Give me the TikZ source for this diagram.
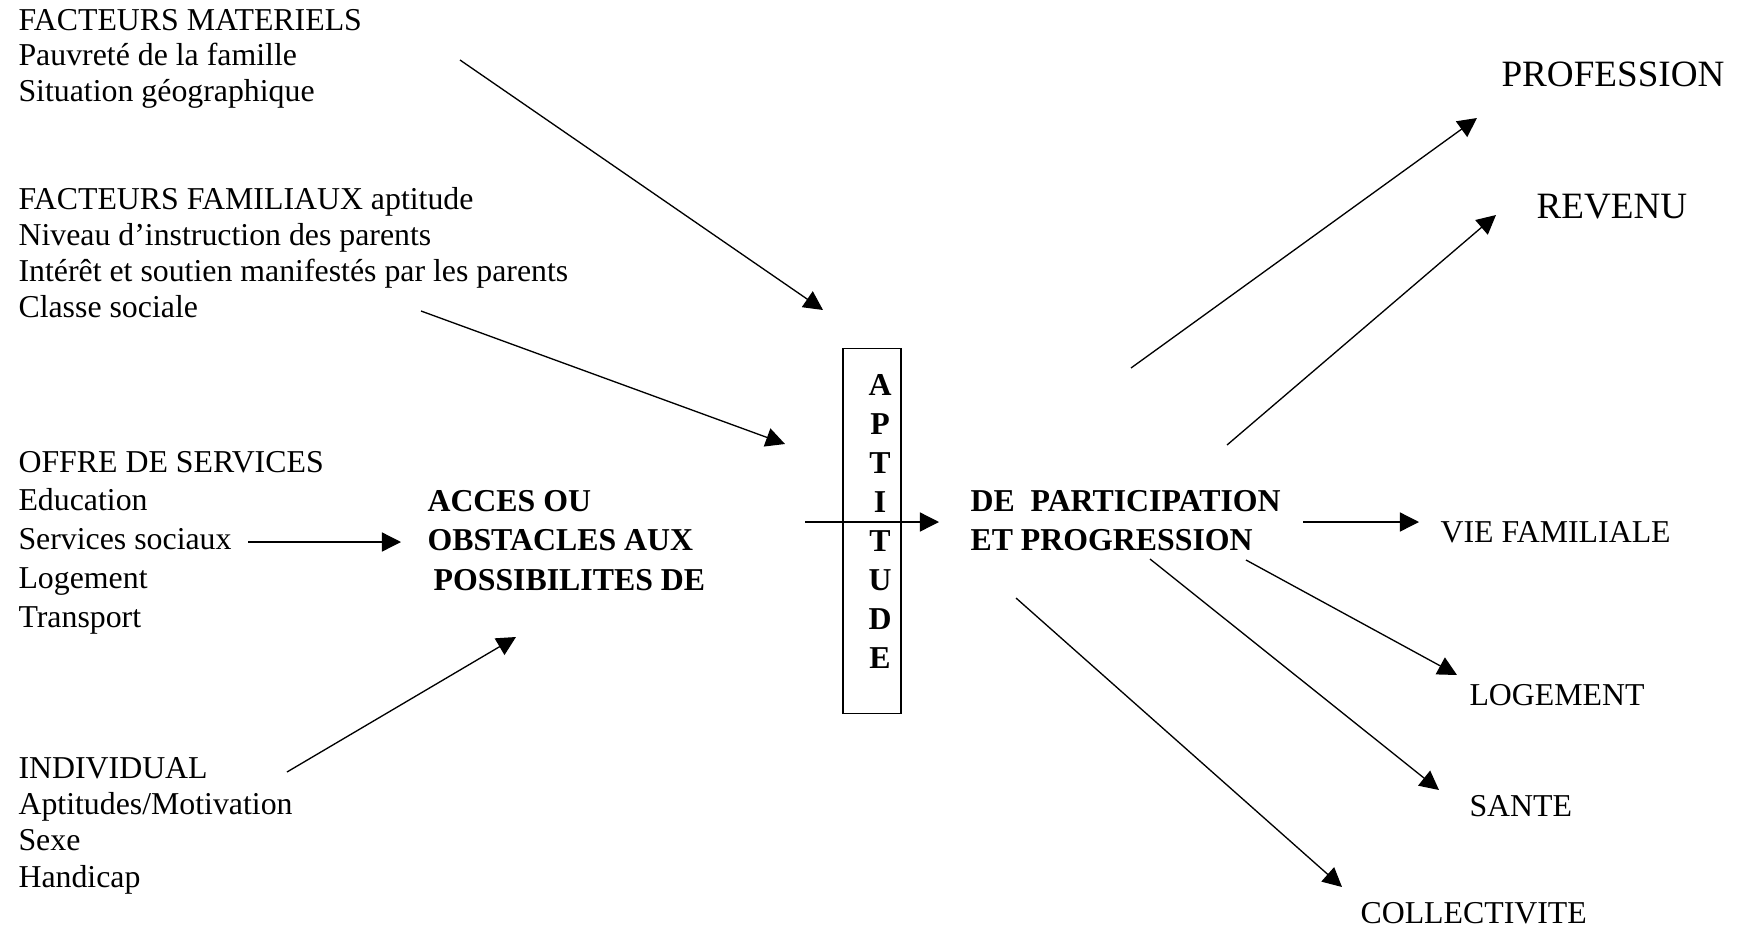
\documentclass[tikz,border=0pt]{standalone}
\usepackage{fontspec}
\setmainfont{Liberation Serif}
\usepackage{tikz}
\usetikzlibrary{arrows.meta,positioning}

\begin{document}
\begin{tikzpicture}[x=0.377pt, y=-0.377pt,
    txt/.style={anchor=base west, align=left, inner sep=0pt, font=\fontsize{12}{#1}\selectfont},
    txt/.default=13.5pt,
    hd/.style={anchor=base west, align=left, inner sep=0pt, font=\bfseries\fontsize{12}{#1}\selectfont},
    outcome/.style={anchor=base west, inner sep=0pt, font=\fontsize{12}{14}\selectfont},
    big/.style={anchor=base west, inner sep=0pt, font=\fontsize{14}{16}\selectfont},
    arrow/.style={-{Triangle[length=7.2pt,width=7.2pt]}, line width=0.5pt}]

    \useasboundingbox (0,0) rectangle (1738,928);

    % multi-line nodes sit on the baseline of their last line
    \node[txt=13.2pt] (mat) at (18,101) {FACTEURS MATERIELS\\Pauvreté de la famille\\Situation géographique};
    \node[txt=13.5pt] (fam) at (18,317) {FACTEURS FAMILIAUX aptitude\\Niveau d’instruction des parents\\Intérêt et soutien manifestés par les parents\\Classe sociale};
    \node[txt=14.6pt] (offre) at (18,627) {OFFRE DE SERVICES\\Education\\Services sociaux\\Logement\\Transport};
    \node[txt=13.6pt] (indiv) at (18,887) {INDIVIDUAL\\Aptitudes/Motivation\\Sexe\\Handicap};

    \node[hd=14.8pt] (acces) at (427,590) {ACCES OU\\OBSTACLES AUX\\\hspace*{2.3pt}POSSIBILITES DE};
    \node[draw, line width=0.6pt, minimum width=21.75pt, minimum height=137.6pt, inner sep=0pt] (apt) at (872,531) {};
    \node[hd=14.7pt, align=center, anchor=base] (aptl) at (880,668) {A\\P\\T\\I\\T\\U\\D\\E};
    \node[hd=14.4pt] (part) at (970,550) {DE\ \ PARTICIPATION\\ET PROGRESSION};

    \node[big] (prof) at (1501,86) {PROFESSION};
    \node[big] (rev) at (1536,218) {REVENU};
    \node[outcome] (vie) at (1440,542) {VIE FAMILIALE};
    \node[outcome] (loge) at (1469,705) {LOGEMENT};
    \node[outcome] (sante) at (1469,816) {SANTE};
    \node[outcome] (coll) at (1360,923) {COLLECTIVITE};

    \coordinate (mat-a) at (460,60);
    \coordinate (mat-b) at (823,310);
    \coordinate (fam-a) at (421,311);
    \coordinate (fam-b) at (785,444);
    \coordinate (offre-a) at (248,542);
    \coordinate (offre-b) at (401,542);
    \coordinate (indiv-a) at (287,772);
    \coordinate (indiv-b) at (516,637);
    \coordinate (apt-a) at (805,522);
    \coordinate (apt-b) at (939,522);
    \coordinate (prof-a) at (1131,368);
    \coordinate (prof-b) at (1477,118);
    \coordinate (rev-a) at (1227,445);
    \coordinate (rev-b) at (1496,215);
    \coordinate (vie-a) at (1303,522);
    \coordinate (vie-b) at (1419,522);
    \coordinate (loge-a) at (1246,560);
    \coordinate (loge-b) at (1457,675);
    \coordinate (sante-a) at (1150,559);
    \coordinate (sante-b) at (1439,790);
    \coordinate (coll-a) at (1016,598);
    \coordinate (coll-b) at (1342,887);

    \draw[arrow] (mat-a) -- (mat-b);
    \draw[arrow] (fam-a) -- (fam-b);
    \draw[arrow] (offre-a) -- (offre-b);
    \draw[arrow] (indiv-a) -- (indiv-b);
    \draw[arrow] (apt-a) -- (apt-b);
    \draw[arrow] (prof-a) -- (prof-b);
    \draw[arrow] (rev-a) -- (rev-b);
    \draw[arrow] (vie-a) -- (vie-b);
    \draw[arrow] (loge-a) -- (loge-b);
    \draw[arrow] (sante-a) -- (sante-b);
    \draw[arrow] (coll-a) -- (coll-b);

\end{tikzpicture}
\end{document}
